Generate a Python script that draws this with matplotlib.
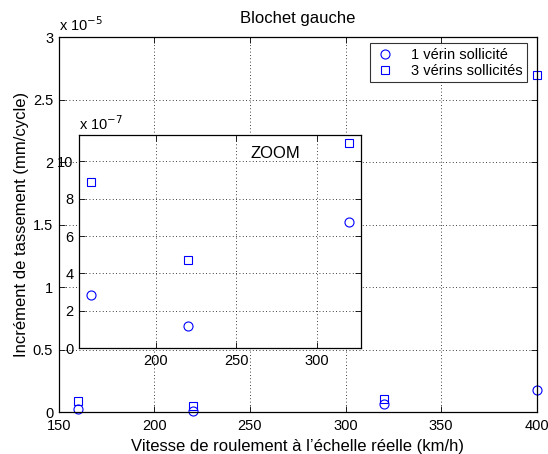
import numpy as np
import matplotlib
matplotlib.use("Agg")
import matplotlib.pyplot as plt
from matplotlib.ticker import FuncFormatter

plt.rcParams['font.family'] = ['Liberation Sans', 'DejaVu Sans']

# Data
vitesse = [160, 220, 320, 400]
un_verin = [0.283e-6, 0.12e-6, 0.674e-6, 1.78e-6]
trois_verins = [0.89e-6, 0.47e-6, 1.10e-6, 2.70e-5]

main_xticks = [150, 200, 250, 300, 350, 400]
main_yticks = [0, 0.5, 1, 1.5, 2, 2.5, 3]
zoom_xticks = [200, 250, 300]
zoom_yticks = [0, 2, 4, 6, 8, 10]

blue = (0, 0, 1)


def matlab_style(ax):
    ax.tick_params(direction='in', top=True, right=True, labelsize=10.5,
                   length=4, width=0.6, pad=4)
    for s in ax.spines.values():
        s.set_linewidth(0.9)
    ax.grid(True, linestyle=(0, (1, 3)), color='black', linewidth=0.6)
    ax.set_axisbelow(False)


fig = plt.figure(figsize=(5.48, 4.54), dpi=100)
ax = fig.add_axes([0.1071, 0.0918, 0.8723, 0.8267])

ax.plot(vitesse, un_verin, 'o', mfc='none', mec=blue, ms=6.5, mew=0.8,
        label='1 vérin sollicité', clip_on=False)
ax.plot(vitesse, trois_verins, 's', mfc='none', mec=blue, ms=5.5, mew=0.8,
        label='3 vérins sollicités', clip_on=False)

ax.set_xlim(150, 400)
ax.set_ylim(0, 3e-5)
ax.set_xticks(main_xticks)
ax.set_yticks([t * 1e-5 for t in main_yticks])
ax.yaxis.set_major_formatter(FuncFormatter(lambda v, p: '%g' % round(v * 1e5, 3)))
matlab_style(ax)
ax.tick_params(axis='x', pad=5)
ax.text(0.0, 1.008, r'x 10$^{-5}$', transform=ax.transAxes, fontsize=10.5,
        ha='left', va='bottom')

ax.set_title('Blochet gauche', fontsize=12, pad=10)
ax.set_xlabel('Vitesse de roulement à l’échelle réelle (km/h)', fontsize=12, labelpad=4)
ax.set_ylabel('Incrément de tassement (mm/cycle)', fontsize=12, labelpad=3)

leg = ax.legend(loc='upper right', bbox_to_anchor=(0.9797, 0.9832), fontsize=10.5,
                frameon=True, fancybox=False, edgecolor='black', borderaxespad=0,
                handletextpad=1.0, borderpad=0.3, labelspacing=0.15,
                handlelength=1.5)
leg.get_frame().set_linewidth(0.8)

# Inset zoom
axz = fig.add_axes([79 / 548, (454 - 348.3) / 454, (360.7 - 79) / 548, (348.3 - 134.7) / 454])
axz.plot(vitesse, un_verin, 'o', mfc='none', mec=blue, ms=6.5, mew=0.8)
axz.plot(vitesse, trois_verins, 's', mfc='none', mec=blue, ms=5.5, mew=0.8)
axz.set_xlim(152.4, 327.3)
axz.set_ylim(0, 1.142e-6)
axz.set_xticks(zoom_xticks)
axz.set_yticks([t * 1e-7 for t in zoom_yticks])
axz.yaxis.set_major_formatter(FuncFormatter(lambda v, p: '%g' % round(v * 1e7, 3)))
matlab_style(axz)
axz.text(0.0, 1.01, r'x 10$^{-7}$', transform=axz.transAxes, fontsize=10.5,
         ha='left', va='bottom')
axz.text(259, 10.43e-7, 'ZOOM', fontsize=12, ha='left', va='center')

fig.savefig('out.png', dpi=100)
